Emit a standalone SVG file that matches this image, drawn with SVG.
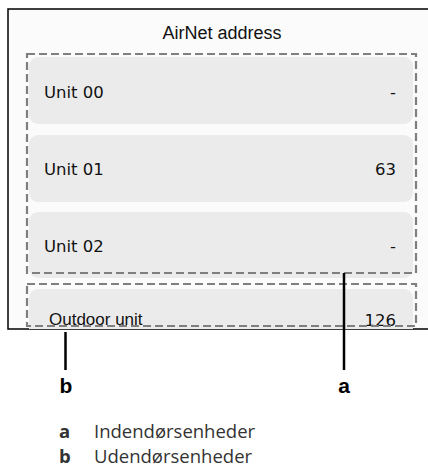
<svg xmlns="http://www.w3.org/2000/svg" width="428" height="469" viewBox="0 0 428 469">
<style>
.row{fill:#ebebeb}
.ui{font-family:"DejaVu Sans",sans-serif;font-size:16.5px;fill:#111}
.dash{fill:none;stroke:#7f7f7f;stroke-width:2.2;stroke-dasharray:8 4}
.lead{stroke:#000;stroke-width:2.5}
.lbl{font-family:"Liberation Sans",Arial,sans-serif;font-weight:bold;font-size:21px;fill:#000;text-anchor:middle}
.leg{font-family:"Open Sans","Noto Sans",sans-serif;font-size:18.5px;fill:#333}
.legk{font-family:"Open Sans","Noto Sans",sans-serif;font-size:18.5px;font-weight:bold;fill:#333}
</style>
<defs><clipPath id="scr"><rect x="8" y="9" width="421" height="320"/></clipPath></defs>
<g id="screen">
<rect x="8" y="9" width="430" height="320" fill="#fbfbfb" stroke="#000" stroke-width="1.5"/>
<text x="222" y="39" text-anchor="middle" style="font-family:'Liberation Sans',Arial,sans-serif;font-size:18px;fill:#111">AirNet address</text>
</g>
<g clip-path="url(#scr)">
<g id="unit00"><rect class="row" x="29" y="57" width="384" height="67" rx="9"/><text class="ui" x="44" y="98">Unit 00</text><text class="ui" x="396" y="98" text-anchor="end">-</text></g>
<g id="unit01"><rect class="row" x="29" y="135" width="384" height="67" rx="9"/><text class="ui" x="44" y="175">Unit 01</text><text class="ui" x="396" y="175" text-anchor="end">63</text></g>
<g id="unit02"><rect class="row" x="29" y="212" width="384" height="66" rx="9"/><text class="ui" x="44" y="252">Unit 02</text><text class="ui" x="396" y="252" text-anchor="end">-</text></g>
<g id="outdoor"><rect class="row" x="29" y="289" width="384" height="60" rx="9"/><text x="49" y="325" style="font-family:'Liberation Sans',Arial,sans-serif;font-size:17px;fill:#111">Outdoor unit</text><text class="ui" x="396" y="326" text-anchor="end">126</text></g>
<g id="group-a"><rect class="dash" x="27" y="54" width="389" height="219"/></g>
<g id="group-b"><rect class="dash" x="27" y="284" width="389" height="42"/></g>
</g>
<g id="connectors">
<line class="lead" x1="344" y1="273" x2="344" y2="370"/>
<line class="lead" x1="65.5" y1="332" x2="65.5" y2="370"/>
</g>
<g id="label-b"><text class="lbl" x="66" y="393">b</text></g>
<g id="label-a"><text class="lbl" x="344" y="393">a</text></g>
<g id="legend">
<text class="legk" x="59" y="438">a</text><text class="leg" x="94" y="438">Indendørsenheder</text>
<text class="legk" x="59" y="463">b</text><text class="leg" x="94" y="463">Udendørsenheder</text>
</g>
</svg>
